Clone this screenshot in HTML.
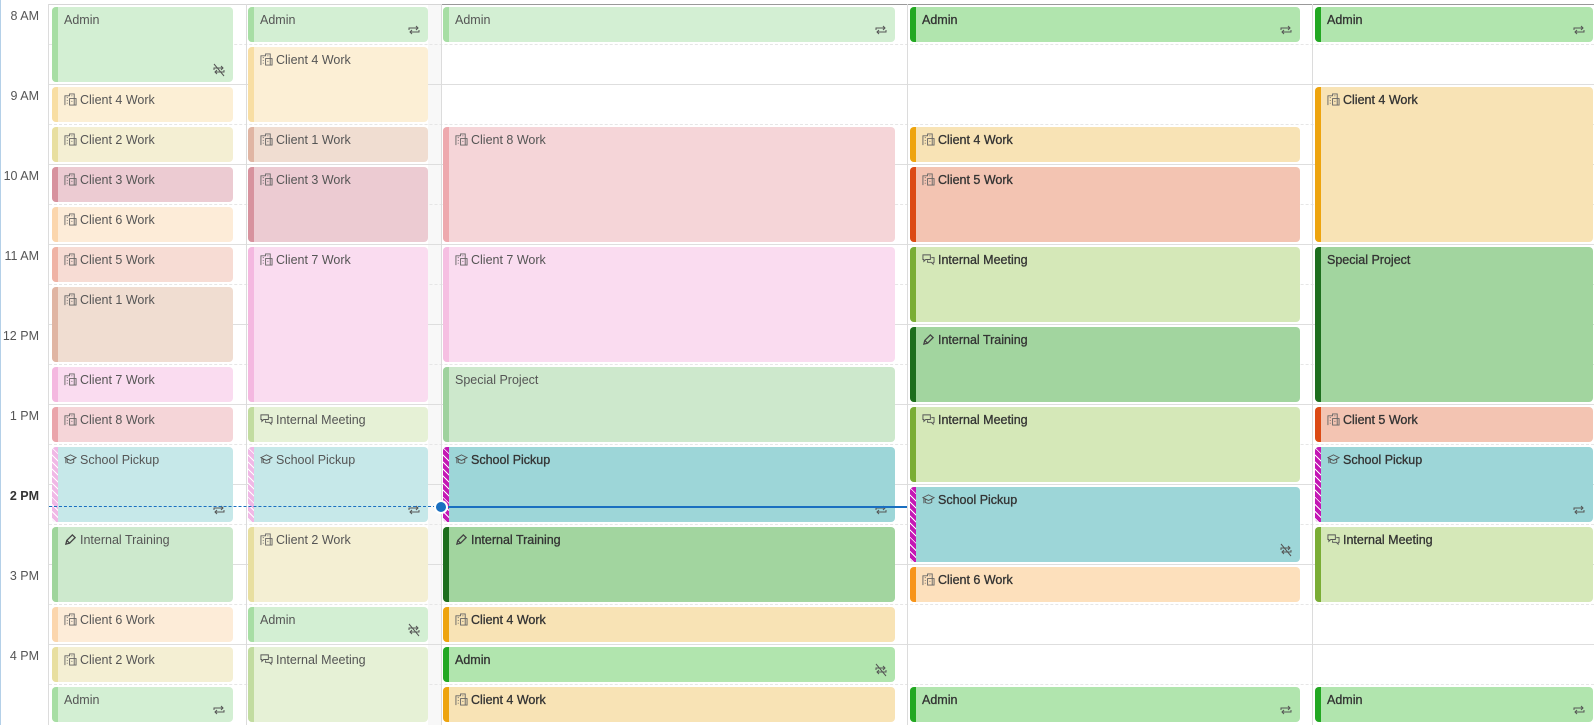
<!DOCTYPE html>
<html><head><meta charset="utf-8"><style>
*{margin:0;padding:0;box-sizing:border-box}
body{width:1594px;height:725px;position:relative;overflow:hidden;background:#fff;font-family:"Liberation Sans",sans-serif}
.h{position:absolute;left:49px;right:0;border-top:1px solid #dedede;height:0}
.d{position:absolute;left:49px;right:0;border-top:1px dashed #e6e6e6;height:0}
.v{position:absolute;top:4px;bottom:0;width:1px;background:#dcdcdc}
.t{position:absolute;left:0;width:39px;text-align:right;font-size:12.5px;color:#555}
.ev{position:absolute;border-radius:4px;overflow:hidden;font-size:12.5px;color:#555;padding:6px 0 0 12px;line-height:15px;white-space:nowrap}
.ev::before{content:"";position:absolute;left:0;top:0;bottom:0;width:6px;background:var(--b)}
.f{color:#333;-webkit-text-stroke:0.3px #333}
.ev svg.i{width:13px;height:13px;vertical-align:-2px;margin-right:3px}
.ev svg.r{position:absolute;right:7px;bottom:5px;width:14px;height:14px}
.hp::before{background:repeating-linear-gradient(45deg,#f0b8e6 0 2px,#fff 2px 3px,#f0b8e6 3px 5px)}
.hm::before{background:repeating-linear-gradient(45deg,#c418b4 0 2px,#fff 2px 3px,#c418b4 3px 5px)}
</style></head><body>
<svg width="0" height="0" style="position:absolute">
<defs>
<symbol id="bld" viewBox="0 0 14 14"><path d="M1 13V3h5V1h5v12M3 5h1M3 8h1M3 11h1M8 3h1M8 6h1M8 9h1M6 13V6h7v7z" fill="none" stroke="#666" stroke-width="1"/></symbol>
<symbol id="chat" viewBox="0 0 14 14"><path d="M1 2h8v5H4l-2 2V7H1zM10 5h3v5h-1v2l-2-2H6V8" fill="none" stroke="#555" stroke-width="1"/></symbol>
<symbol id="pen" viewBox="0 0 14 14"><path d="M2 12l1-4 6-6 3 3-6 6zM3 8l3 3" fill="none" stroke="#444" stroke-width="1.4"/></symbol>
<symbol id="cap" viewBox="0 0 14 14"><path d="M1 5l6-3 6 3-6 3zM3.5 6.5v3.5c2 1.5 5 1.5 7 0V6.5M2 6v5" fill="none" stroke="#555" stroke-width="1"/></symbol>
<symbol id="rep" viewBox="0 0 14 14"><path d="M2 7V5h9M9 3l2 2-2 2M12 7v2H3M5 11L3 9l2-2" fill="none" stroke="#555" stroke-width="1"/></symbol>
<symbol id="norep" viewBox="0 0 14 14"><path d="M2 7V5h9M9 3l2 2-2 2M12 7v2H3M5 11L3 9l2-2M2 1l10 12" fill="none" stroke="#555" stroke-width="1"/></symbol>
</defs></svg>

<div style="position:absolute;left:0;top:0;width:1px;height:725px;background:#b4d0e8"></div>
<div style="position:absolute;left:49px;right:0;top:4px;border-top:1px solid #d6d6d6"></div>
<div style="position:absolute;left:441px;right:0;top:4px;border-top:1px solid #999"></div>
<div style="position:absolute;left:428px;top:5px;width:13px;bottom:0;background:#f8f8f8"></div>

<div class="h" style="top:84px"></div><div class="h" style="top:164px"></div><div class="h" style="top:244px"></div><div class="h" style="top:324px"></div><div class="h" style="top:404px"></div><div class="h" style="top:484px"></div><div class="h" style="top:564px"></div><div class="h" style="top:644px"></div>
<div class="d" style="top:44px"></div><div class="d" style="top:124px"></div><div class="d" style="top:204px"></div><div class="d" style="top:284px"></div><div class="d" style="top:364px"></div><div class="d" style="top:444px"></div><div class="d" style="top:524px"></div><div class="d" style="top:604px"></div><div class="d" style="top:684px"></div>
<div class="v" style="left:48px"></div><div class="v" style="left:246px"></div><div class="v" style="left:441px"></div><div class="v" style="left:907px"></div><div class="v" style="left:1312px"></div>

<div class="t" style="top:9px">8 AM</div>
<div class="t" style="top:89px">9 AM</div>
<div class="t" style="top:169px">10 AM</div>
<div class="t" style="top:249px">11 AM</div>
<div class="t" style="top:329px">12 PM</div>
<div class="t" style="top:409px">1 PM</div>
<div class="t" style="top:489px;color:#333;font-weight:bold">2 PM</div>
<div class="t" style="top:569px">3 PM</div>
<div class="t" style="top:649px">4 PM</div>

<!-- Column 1 -->
<div class="ev" style="left:52px;top:7px;width:181px;height:75px;background:#d3efd3;--b:#a7dea4">Admin<svg class="r"><use href="#norep"/></svg></div>
<div class="ev" style="left:52px;top:87px;width:181px;height:35px;background:#fcefd5;--b:#f8dea3"><svg class="i"><use href="#bld"/></svg>Client 4 Work</div>
<div class="ev" style="left:52px;top:127px;width:181px;height:35px;background:#f4efd3;--b:#e8dfa0"><svg class="i"><use href="#bld"/></svg>Client 2 Work</div>
<div class="ev" style="left:52px;top:167px;width:181px;height:35px;background:#eccbd2;--b:#d7929e"><svg class="i"><use href="#bld"/></svg>Client 3 Work</div>
<div class="ev" style="left:52px;top:207px;width:181px;height:35px;background:#fdecd8;--b:#fbd6ad"><svg class="i"><use href="#bld"/></svg>Client 6 Work</div>
<div class="ev" style="left:52px;top:247px;width:181px;height:35px;background:#f7dcd4;--b:#efb3a5"><svg class="i"><use href="#bld"/></svg>Client 5 Work</div>
<div class="ev" style="left:52px;top:287px;width:181px;height:75px;background:#f0ddd1;--b:#e0b5a3"><svg class="i"><use href="#bld"/></svg>Client 1 Work</div>
<div class="ev" style="left:52px;top:367px;width:181px;height:35px;background:#fadcf0;--b:#f4b8e0"><svg class="i"><use href="#bld"/></svg>Client 7 Work</div>
<div class="ev" style="left:52px;top:407px;width:181px;height:35px;background:#f5d5d8;--b:#eaa5ab"><svg class="i"><use href="#bld"/></svg>Client 8 Work</div>
<div class="ev hp" style="left:52px;top:447px;width:181px;height:75px;background:#c6e8e9"><svg class="i"><use href="#cap"/></svg>School Pickup<svg class="r"><use href="#rep"/></svg></div>
<div class="ev" style="left:52px;top:527px;width:181px;height:75px;background:#cde9cd;--b:#9fd59c"><svg class="i"><use href="#pen"/></svg>Internal Training</div>
<div class="ev" style="left:52px;top:607px;width:181px;height:35px;background:#fdecd8;--b:#fbd6ad"><svg class="i"><use href="#bld"/></svg>Client 6 Work</div>
<div class="ev" style="left:52px;top:647px;width:181px;height:35px;background:#f4efd3;--b:#e8dfa0"><svg class="i"><use href="#bld"/></svg>Client 2 Work</div>
<div class="ev" style="left:52px;top:687px;width:181px;height:35px;background:#d3efd3;--b:#a7dea4">Admin<svg class="r"><use href="#rep"/></svg></div>

<!-- Column 2 -->
<div class="ev" style="left:248px;top:7px;width:180px;height:35px;background:#d3efd3;--b:#a7dea4">Admin<svg class="r"><use href="#rep"/></svg></div>
<div class="ev" style="left:248px;top:47px;width:180px;height:75px;background:#fcefd5;--b:#f8dea3"><svg class="i"><use href="#bld"/></svg>Client 4 Work</div>
<div class="ev" style="left:248px;top:127px;width:180px;height:35px;background:#f0ddd1;--b:#e0b5a3"><svg class="i"><use href="#bld"/></svg>Client 1 Work</div>
<div class="ev" style="left:248px;top:167px;width:180px;height:75px;background:#eccbd2;--b:#d7929e"><svg class="i"><use href="#bld"/></svg>Client 3 Work</div>
<div class="ev" style="left:248px;top:247px;width:180px;height:155px;background:#fadcf0;--b:#f4b8e0"><svg class="i"><use href="#bld"/></svg>Client 7 Work</div>
<div class="ev" style="left:248px;top:407px;width:180px;height:35px;background:#e6f1d6;--b:#c2dca0"><svg class="i"><use href="#chat"/></svg>Internal Meeting</div>
<div class="ev hp" style="left:248px;top:447px;width:180px;height:75px;background:#c6e8e9"><svg class="i"><use href="#cap"/></svg>School Pickup<svg class="r"><use href="#rep"/></svg></div>
<div class="ev" style="left:248px;top:527px;width:180px;height:75px;background:#f4efd3;--b:#e8dfa0"><svg class="i"><use href="#bld"/></svg>Client 2 Work</div>
<div class="ev" style="left:248px;top:607px;width:180px;height:35px;background:#d3efd3;--b:#a7dea4">Admin<svg class="r"><use href="#norep"/></svg></div>
<div class="ev" style="left:248px;top:647px;width:180px;height:75px;background:#e6f1d6;--b:#c2dca0"><svg class="i"><use href="#chat"/></svg>Internal Meeting</div>

<!-- Column 3 -->
<div class="ev" style="left:443px;top:7px;width:452px;height:35px;background:#d3efd3;--b:#a7dea4">Admin<svg class="r"><use href="#rep"/></svg></div>
<div class="ev" style="left:443px;top:127px;width:452px;height:115px;background:#f5d5d8;--b:#eea9ae"><svg class="i"><use href="#bld"/></svg>Client 8 Work</div>
<div class="ev" style="left:443px;top:247px;width:452px;height:115px;background:#fadcf0;--b:#f6bfe2"><svg class="i"><use href="#bld"/></svg>Client 7 Work</div>
<div class="ev" style="left:443px;top:367px;width:452px;height:75px;background:#cde8cc;--b:#9fd29e">Special Project</div>
<div class="ev hm f" style="left:443px;top:447px;width:452px;height:75px;background:#9dd6d8"><svg class="i"><use href="#cap"/></svg>School Pickup<svg class="r"><use href="#rep"/></svg></div>
<div class="ev f" style="left:443px;top:527px;width:452px;height:75px;background:#a2d59f;--b:#1d6e1d"><svg class="i"><use href="#pen"/></svg>Internal Training</div>
<div class="ev f" style="left:443px;top:607px;width:452px;height:35px;background:#f8e3b5;--b:#eea40e"><svg class="i"><use href="#bld"/></svg>Client 4 Work</div>
<div class="ev f" style="left:443px;top:647px;width:452px;height:35px;background:#b1e5ae;--b:#22a822">Admin<svg class="r"><use href="#norep"/></svg></div>
<div class="ev f" style="left:443px;top:687px;width:452px;height:35px;background:#f8e3b5;--b:#eea40e"><svg class="i"><use href="#bld"/></svg>Client 4 Work</div>

<!-- Column 4 -->
<div class="ev f" style="left:910px;top:7px;width:390px;height:35px;background:#b1e5ae;--b:#22a822">Admin<svg class="r"><use href="#rep"/></svg></div>
<div class="ev f" style="left:910px;top:127px;width:390px;height:35px;background:#f8e3b5;--b:#eea40e"><svg class="i"><use href="#bld"/></svg>Client 4 Work</div>
<div class="ev f" style="left:910px;top:167px;width:390px;height:75px;background:#f3c4b2;--b:#dc4a14"><svg class="i"><use href="#bld"/></svg>Client 5 Work</div>
<div class="ev f" style="left:910px;top:247px;width:390px;height:75px;background:#d5e8b8;--b:#7aad35"><svg class="i"><use href="#chat"/></svg>Internal Meeting</div>
<div class="ev f" style="left:910px;top:327px;width:390px;height:75px;background:#a2d59f;--b:#1d6e1d"><svg class="i"><use href="#pen"/></svg>Internal Training</div>
<div class="ev f" style="left:910px;top:407px;width:390px;height:75px;background:#d5e8b8;--b:#7aad35"><svg class="i"><use href="#chat"/></svg>Internal Meeting</div>
<div class="ev hm f" style="left:910px;top:487px;width:390px;height:75px;background:#9dd6d8"><svg class="i"><use href="#cap"/></svg>School Pickup<svg class="r"><use href="#norep"/></svg></div>
<div class="ev f" style="left:910px;top:567px;width:390px;height:35px;background:#fde0bc;--b:#f79419"><svg class="i"><use href="#bld"/></svg>Client 6 Work</div>
<div class="ev f" style="left:910px;top:687px;width:390px;height:35px;background:#b1e5ae;--b:#22a822">Admin<svg class="r"><use href="#rep"/></svg></div>

<!-- Column 5 -->
<div class="ev f" style="left:1315px;top:7px;width:278px;height:35px;background:#b1e5ae;--b:#22a822">Admin<svg class="r"><use href="#rep"/></svg></div>
<div class="ev f" style="left:1315px;top:87px;width:278px;height:155px;background:#f8e3b5;--b:#eea40e"><svg class="i"><use href="#bld"/></svg>Client 4 Work</div>
<div class="ev f" style="left:1315px;top:247px;width:278px;height:155px;background:#a2d59f;--b:#1d6e1d">Special Project</div>
<div class="ev f" style="left:1315px;top:407px;width:278px;height:35px;background:#f3c4b2;--b:#dc4a14"><svg class="i"><use href="#bld"/></svg>Client 5 Work</div>
<div class="ev hm f" style="left:1315px;top:447px;width:278px;height:75px;background:#9dd6d8"><svg class="i"><use href="#cap"/></svg>School Pickup<svg class="r"><use href="#rep"/></svg></div>
<div class="ev f" style="left:1315px;top:527px;width:278px;height:75px;background:#d5e8b8;--b:#7aad35"><svg class="i"><use href="#chat"/></svg>Internal Meeting</div>
<div class="ev f" style="left:1315px;top:687px;width:278px;height:35px;background:#b1e5ae;--b:#22a822">Admin<svg class="r"><use href="#rep"/></svg></div>

<!-- now line -->
<div style="position:absolute;left:49px;width:392px;top:506px;border-top:1px dashed #1a6fc0"></div>
<div style="position:absolute;left:441px;width:466px;top:506px;height:2px;background:#1a6fc0"></div>
<div style="position:absolute;left:434px;top:500px;width:14px;height:14px;border-radius:50%;background:#1a6fc0;border:2px solid #fff"></div>
</body></html>
